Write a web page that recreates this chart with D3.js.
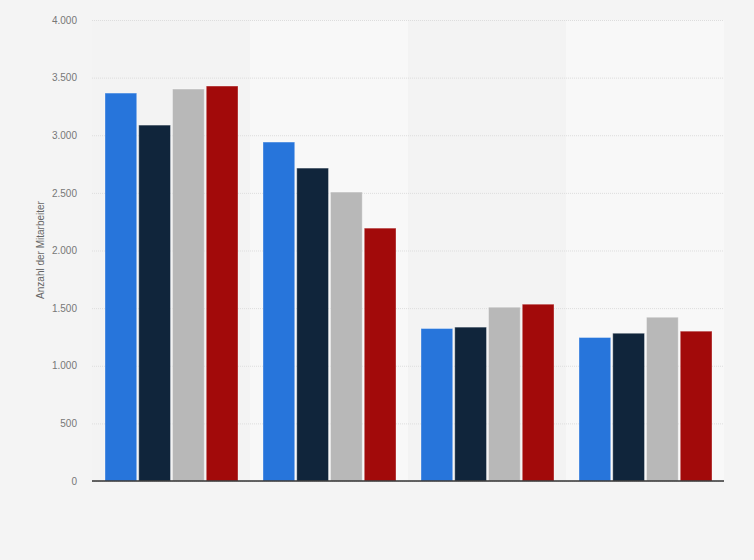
<!DOCTYPE html>
<html>
<head>
<meta charset="utf-8">
<script src="https://cdn.jsdelivr.net/npm/d3@7"></script>
<style>
html,body{margin:0;padding:0;background:#f4f4f4;}
svg{display:block;}
text{font-family:"Liberation Sans",Arial,sans-serif;}
</style>
</head>
<body>
<svg id="chart" width="754" height="560"></svg>
<script>
const categories = ["Gruppe 1", "Gruppe 2", "Gruppe 3", "Gruppe 4"];
const seriesNames = ["Serie 1", "Serie 2", "Serie 3", "Serie 4"];
const series1 = [3366, 2941, 1323, 1245];
const series2 = [3088, 2715, 1335, 1282];
const series3 = [3401, 2507, 1508, 1421];
const series4 = [3427, 2194, 1534, 1300];
const seriesColors = ["#2775db", "#10253b", "#b8b8b8", "#a20a0a"];
const yTicks = [0, 500, 1000, 1500, 2000, 2500, 3000, 3500, 4000];
const yTitle = "Anzahl der Mitarbeiter";

const allSeries = [series1, series2, series3, series4];
const svg = d3.select("#chart");
const W = 754, H = 560;
const m = {left: 92, right: 30, top: 20, bottom: 79};
const iw = W - m.left - m.right, ih = H - m.top - m.bottom;

svg.append("rect").attr("width", W).attr("height", H).attr("fill", "#f4f4f4");
const g = svg.append("g").attr("transform", `translate(${m.left},${m.top})`);

const x0 = d3.scaleBand().domain(categories).range([0, iw]).paddingInner(0).paddingOuter(0);
const x1 = d3.scaleBand().domain(seriesNames).range([13, x0.bandwidth() - 12]).paddingInner(0.06);
const y = d3.scaleLinear().domain([0, 4000]).range([ih, 0]);

// alternating bands
g.selectAll("rect.band").data(categories).join("rect")
  .attr("class", "band")
  .attr("x", d => x0(d)).attr("y", 0)
  .attr("width", x0.bandwidth()).attr("height", ih)
  .attr("fill", (d, i) => i % 2 ? "#f8f8f8" : "#f3f3f3");

// grid
const yAxis = d3.axisLeft(y).tickValues(yTicks).tickSize(-iw).tickPadding(15)
  .tickFormat(d => d3.format(",")(d).replace(/,/g, "."));
const ya = g.append("g").call(yAxis);
ya.select(".domain").remove();
ya.selectAll(".tick line").attr("stroke", "#dddddd").attr("stroke-dasharray", "1,1").attr("stroke-width", 1);
ya.selectAll(".tick text").attr("fill", "#777").attr("font-size", "10px").attr("dx", "0");

// bars
const groups = g.selectAll("g.grp").data(categories).join("g")
  .attr("class", "grp").attr("transform", d => `translate(${x0(d)},0)`);
groups.selectAll("rect").data((c, ci) => seriesNames.map((s, si) => ({s, si, v: allSeries[si][ci]})))
  .join("rect")
  .attr("x", d => x1(d.s)).attr("y", d => y(d.v))
  .attr("width", x1.bandwidth()).attr("height", d => ih - y(d.v))
  .attr("fill", d => seriesColors[d.si])
  .attr("stroke", "rgba(255,255,255,0.35)").attr("stroke-width", 1);

// zero line
g.append("line").attr("x1", 0).attr("x2", iw).attr("y1", y(0)).attr("y2", y(0))
  .attr("stroke", "#333").attr("stroke-width", 1.5);

// y title
svg.append("text")
  .attr("transform", `translate(44,250) rotate(-90)`)
  .attr("text-anchor", "middle").attr("fill", "#666").attr("font-size", "10px")
  .text(yTitle);
</script>
</body>
</html>
